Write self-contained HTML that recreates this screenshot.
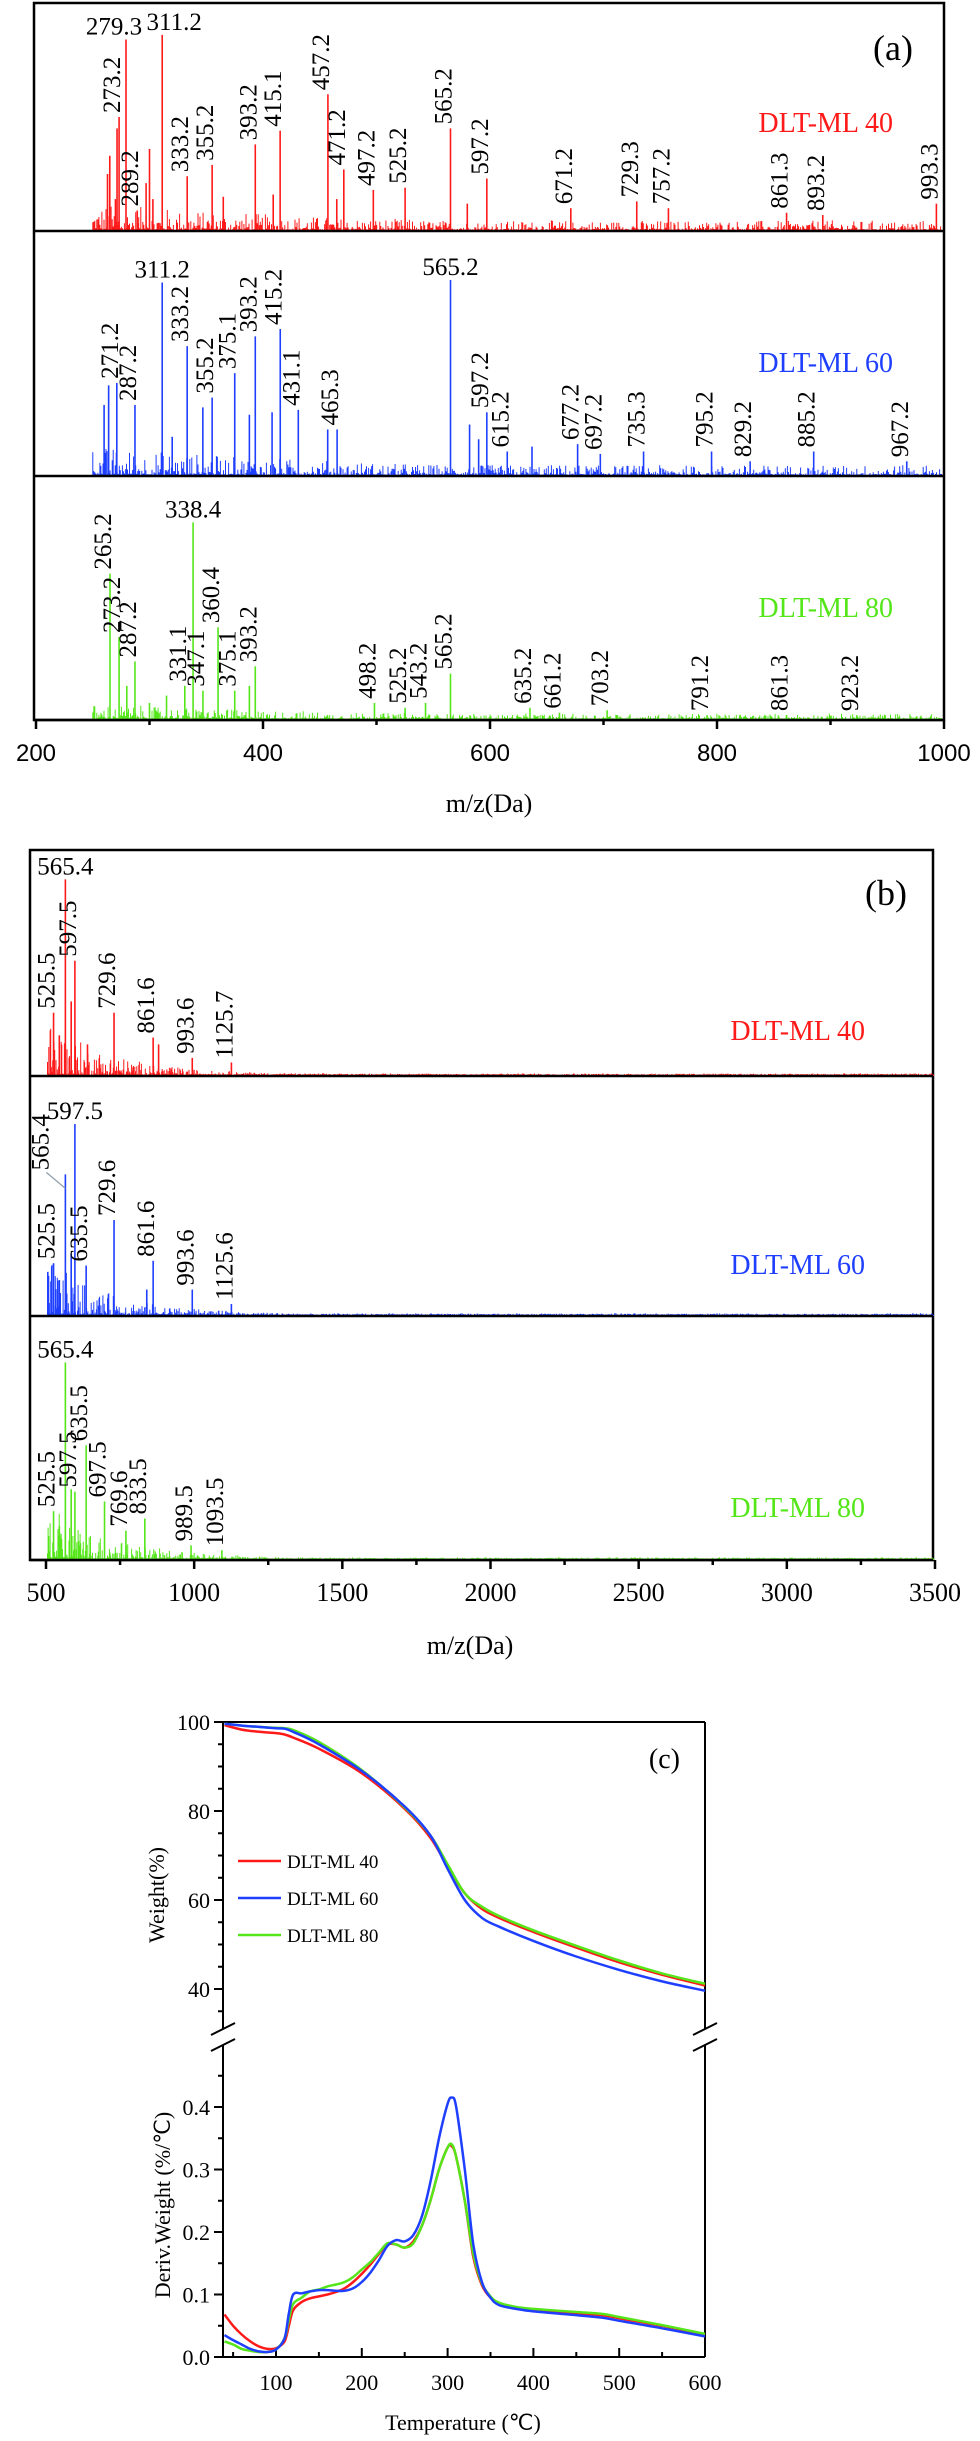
<!DOCTYPE html>
<html><head><meta charset="utf-8"><title>Figure</title>
<style>
html,body{margin:0;padding:0;background:#fff;}
svg{display:block;}
text{font-family:"Liberation Serif",serif;}
.sans{font-family:"Liberation Sans",sans-serif;}
</style></head>
<body>
<svg id="fig" width="980" height="2441" viewBox="0 0 980 2441" xmlns="http://www.w3.org/2000/svg"></svg>
<script>
// ===== Panel (a) data =====
const aSampleNames = ["DLT-ML 40","DLT-ML 60","DLT-ML 80"];
const aRedMz  = [263,265,270,271.4,273.2,279.3,289.2,297,300,303,311.2,333.2,355.2,365,393.2,409,415.1,457.2,465,471.2,497.2,525.2,565.2,580,597.2,671.2,729.3,757.2,861.3,893.2,993.3];
const aRedInt = [25,33,14,45,50,84,9,21,36,14,86,24,29,15,38,16,44,60,14,27,18,19,45,12,23,10,13,10,8,7,12];
const aRedLabels = ["273.2","279.3","289.2","311.2","333.2","355.2","393.2","415.1","457.2","471.2","497.2","525.2","565.2","597.2","671.2","729.3","757.2","861.3","893.2","993.3"];
const aBlueMz  = [260,264,271.2,287.2,311.2,320,333.2,347,355.2,375.1,388,393.2,408,415.2,431.1,457,465.3,565.2,582,590,597.2,615.2,637,677.2,697.2,735.3,795.2,829.2,885.2,967.2];
const aBlueInt = [29,37,38,29,79,16,53,28,32,42,25,57,26,60,27,19,19,80,21,15,26,10,12,13,9,10,10,6,10,6];
const aBlueLabels = ["271.2","287.2","311.2","333.2","355.2","375.1","393.2","415.2","431.1","465.3","565.2","597.2","615.2","677.2","697.2","735.3","795.2","829.2","885.2","967.2"];
const aGreenMz  = [265.2,273.2,280,287.2,300,315,331.1,338.4,347.1,360.4,375.1,388,393.2,498.2,525.2,543.2,565.2,635.2,661.2,703.2,791.2,861.3,923.2];
const aGreenInt = [60,34,14,24,7,10,14,81,12,38,12,14,22,7,5,7,19,5,3,4,2,2,2];
const aGreenLabels = ["265.2","273.2","287.2","331.1","338.4","347.1","360.4","375.1","393.2","498.2","525.2","543.2","565.2","635.2","661.2","703.2","791.2","861.3","923.2"];
const aRedHoriz = ["279.3","311.2"];
const aBlueHoriz = ["311.2","565.2"];
const aGreenHoriz = ["338.4"];
const aTicks = [200,400,600,800,1000];

// ===== Panel (b) data =====
const bRedMz  = [525.5,545,565.4,585,597.5,640,729.6,861.6,880,993.6,1125.7];
const bRedInt = [28,18,87,33,51,14,28,17,14,8,6];
const bRedLabels = ["565.4","525.5","597.5","729.6","861.6","993.6","1125.7"];
const bBlueMz  = [525.5,545,565.4,585,597.5,635.5,729.6,840,861.6,993.6,1125.6];
const bBlueInt = [22,15,59,26,80,21,40,11,23,11,5];
const bBlueLabels = ["565.4","597.5","525.5","635.5","729.6","861.6","993.6","1125.6"];
const bGreenMz  = [525.5,545,565.4,585,597.5,635.5,697.5,769.6,833.5,989.5,1093.5];
const bGreenInt = [20,14,81,29,28,47,24,12,17,6,4];
const bGreenLabels = ["565.4","525.5","597.5","635.5","697.5","769.6","833.5","989.5","1093.5"];
const bRedHoriz = ["565.4"];
const bBlueHoriz = ["597.5"];
const bGreenHoriz = ["565.4"];
const bTicks = [500,1000,1500,2000,2500,3000,3500];

// ===== Panel (c) data =====
const cWTemp = [40,60,80,100,110,120,150,200,250,280,300,320,340,360,400,450,500,550,600];
const cWRed   = [99.3,98.3,97.8,97.5,97.2,96.5,94,88.5,80.5,74,67.5,61.5,58,56,52.8,49.3,46,43.2,40.8];
const cWBlue  = [99.6,99.2,98.9,98.6,98.5,97.8,95,89,81,74.5,67,60,56,54,50.8,47.3,44.3,41.7,39.6];
const cWGreen = [99.6,99.2,98.9,98.7,98.6,98.2,95.5,89.2,80.8,74.5,68,61.5,58.5,56.4,53.2,49.7,46.4,43.5,41.2];
const cDTemp = [40,50,60,70,80,90,100,110,115,120,130,140,150,160,170,180,190,200,210,220,230,240,250,260,270,280,290,300,305,310,320,330,340,350,360,380,400,450,480,500,550,600];
const cDRed   = [.068,.05,.036,.025,.017,.013,.014,.025,.05,.075,.088,.094,.097,.10,.104,.11,.12,.133,.148,.165,.18,.18,.175,.185,.21,.25,.3,.335,.337,.32,.25,.16,.115,.095,.085,.078,.075,.07,.067,.062,.05,.036];
const cDBlue  = [.035,.027,.02,.013,.009,.008,.012,.03,.07,.1,.102,.105,.107,.107,.106,.106,.11,.12,.135,.155,.178,.187,.185,.195,.225,.28,.35,.405,.415,.4,.3,.18,.12,.095,.083,.077,.073,.067,.063,.058,.046,.033];
const cDGreen = [.025,.02,.013,.01,.008,.008,.012,.03,.06,.085,.095,.105,.108,.113,.116,.12,.128,.14,.152,.167,.182,.18,.175,.182,.21,.25,.3,.335,.34,.32,.25,.165,.118,.097,.087,.08,.077,.072,.069,.064,.051,.037];
const cXTicks = [100,200,300,400,500,600];
const cWTicks = [40,60,80,100];
const cDTicks = [0.0,0.1,0.2,0.3,0.4];

const NS = "http://www.w3.org/2000/svg";
const svg = document.getElementById("fig");
function el(tag, attrs, parent, txt){
  const e = document.createElementNS(NS, tag);
  for (const k in attrs) e.setAttribute(k, attrs[k]);
  if (txt !== undefined) e.textContent = txt;
  (parent || svg).appendChild(e);
  return e;
}
const RED="#ff1a1a", BLUE="#1f3fff", GREEN="#55e61a";

// decorative baseline noise (visual texture only, not data)
let seed = 12345;
function rnd(){ seed = (seed*1103515245+12345) % 2147483648; return seed/2147483648; }

function spectrum(opt){
  const g = el("g", {});
  
  
  const x = opt.x, y0 = opt.base, h = opt.h;
  let d = "";
  for (let v = opt.nStart; v <= opt.nEnd; v += opt.nStep){
    const fall = opt.decay ? Math.max(opt.floor, Math.exp(-(v-opt.nStart)/opt.decay)) : 1;
    const r = rnd();
    const amp = r*r*r*opt.nAmp*fall + rnd()*2*Math.max(fall,0.5) + 0.8;
    d += "M"+x(v).toFixed(1)+" "+y0+"V"+(y0-amp).toFixed(1);
  }
  const noise = el("path", {d:d, stroke:opt.color, "stroke-width":1, fill:"none"}, g);
  
  
  const off = opt.hOffset || {};
  const rOff = opt.rOffset || {};
  opt.mz.forEach((m,i)=>{
    const top = y0 - opt.ints[i]/100*h;
    const ln = el("line", {x1:x(m), x2:x(m), y1:y0, y2:top, stroke:opt.color, "stroke-width":1.6}, g);
    
    
    const lab = String(m);
    if (opt.labels.indexOf(lab) >= 0){
      let t;
      if (opt.horiz.indexOf(lab) >= 0){
        t = el("text", {x:x(m)+(off[lab]||0), y:top-5, "text-anchor":"middle", "font-size":opt.fs}, g, lab);
      } else {
        const dx = rOff[lab] || 0;
        const tx = x(m)+1+dx, ty = top-4;
        t = el("text", {x:tx, y:ty, "font-size":opt.fs, transform:"rotate(-90 "+tx+" "+ty+")"}, g, lab);
        if (dx) {
          const lead = el("line",{x1:tx-2,y1:ty+2,x2:x(m),y2:top+14,stroke:"#8899aa","stroke-width":1.2},g);
          
          
        }
      }
      
      
    }
  });
  return g;
}

// ================= Panel (a) =================
const aL=34, aR=944, aT=3, aB=[231,476,720];
const ax = v => 36 + (v-200)*(908/800);
const fa = el("rect",{x:aL,y:aT,width:aR-aL,height:aB[2]-aT,fill:"none",stroke:"#000","stroke-width":2.5});
 
const aTops=[aT,aB[0],aB[1]];
const aCols=[RED,BLUE,GREEN];
const aMzs=[aRedMz,aBlueMz,aGreenMz], aInts=[aRedInt,aBlueInt,aGreenInt], aLabs=[aRedLabels,aBlueLabels,aGreenLabels];
const aHz=[aRedHoriz,aBlueHoriz,aGreenHoriz];
const aHOff=[{"279.3":-12,"311.2":12},{},{}];
const aNoise=[26,28,14];
for (let k=0;k<3;k++){
  spectrum({name:'panel-a-spectrum-'+(k+1), x:ax, base:aB[k], h:aB[k]-aTops[k], color:aCols[k], mz:aMzs[k], ints:aInts[k], labels:aLabs[k], horiz:aHz[k], hOffset:aHOff[k], fs:25, nStart:250, nEnd:998, nStep:0.9, nAmp:aNoise[k], decay:300, floor:0.35});
  const sep = el("line",{x1:aL,x2:aR,y1:aB[k],y2:aB[k],stroke:"#000","stroke-width":2.5});
   
}
const aLabelY=[132,372,617];
aSampleNames.forEach((n,k)=>{
  const t=el("text",{x:893,y:aLabelY[k],"text-anchor":"end","font-size":28,fill:aCols[k]},svg,n);
   
});
const aTag=el("text",{x:913,y:60,"text-anchor":"end","font-size":36},svg,"(a)");
 
for (let v=200; v<=1000; v+=100){
  const major = aTicks.indexOf(v)>=0;
  const tk=el("line",{x1:ax(v),x2:ax(v),y1:aB[2],y2:aB[2]+(major?9:5),stroke:"#000","stroke-width":2.5});
   
}
aTicks.forEach(v=>{
  const t=el("text",{x:ax(v),y:761,"text-anchor":"middle","font-size":24,class:"sans"},svg,String(v));
   
});
const aXT=el("text",{x:489,y:812,"text-anchor":"middle","font-size":26},svg,"m/z(Da)");
 

// ================= Panel (b) =================
const bL=30, bR=933, bT=850, bB=[1076,1316,1560];
const bx = v => 46 + (v-500)*(889/3000);
const fb = el("rect",{x:bL,y:bT,width:bR-bL,height:bB[2]-bT,fill:"none",stroke:"#000","stroke-width":2.5});
 
const bTops=[bT,bB[0],bB[1]];
const bMzs=[bRedMz,bBlueMz,bGreenMz], bInts=[bRedInt,bBlueInt,bGreenInt], bLabs=[bRedLabels,bBlueLabels,bGreenLabels];
const bHz=[bRedHoriz,bBlueHoriz,bGreenHoriz];
const bROff=[{},{"565.4":-18},{}];
for (let k=0;k<3;k++){
  spectrum({name:'panel-b-spectrum-'+(k+1), x:bx, base:bB[k], h:bB[k]-bTops[k], color:aCols[k], mz:bMzs[k], ints:bInts[k], labels:bLabs[k], horiz:bHz[k], rOffset:bROff[k], fs:25, nStart:505, nEnd:3495, nStep:2.2, nAmp:55, decay:220, floor:0.02});
  const sep = el("line",{x1:bL,x2:bR,y1:bB[k],y2:bB[k],stroke:"#000","stroke-width":2.5});
   
}
const bLabelY=[1040,1274,1517];
aSampleNames.forEach((n,k)=>{
  const t=el("text",{x:865,y:bLabelY[k],"text-anchor":"end","font-size":28,fill:aCols[k]},svg,n);
   
});
const bTag=el("text",{x:907,y:905,"text-anchor":"end","font-size":36},svg,"(b)");
 
for (let v=500; v<=3500; v+=250){
  const major = bTicks.indexOf(v)>=0;
  const tk=el("line",{x1:bx(v),x2:bx(v),y1:bB[2],y2:bB[2]+(major?9:5),stroke:"#000","stroke-width":2.5});
   
}
bTicks.forEach(v=>{
  const t=el("text",{x:bx(v),y:1601,"text-anchor":"middle","font-size":26},svg,String(v));
   
});
const bXT=el("text",{x:470,y:1654,"text-anchor":"middle","font-size":26},svg,"m/z(Da)");
 

// ================= Panel (c) =================
const cL=223, cR=705, cT=1722, cBot=2357;
const cx = t => 276 + (t-100)*(429/500);
const cyW = w => 1722 + (100-w)*(267/60);
const cyD = d => 2357 - d*(250/0.4);
const breakY=2037;
function ln(x1,y1,x2,y2,name,w){ const l=el("line",{x1:x1,y1:y1,x2:x2,y2:y2,stroke:"#000","stroke-width":w||2});   return l;}
ln(cL,cT,cR,cT,'panel-c-top-border');
ln(cL,cBot,cR,cBot,'panel-c-x-axis');
ln(cL,cT,cL,breakY-8,'panel-c-left-axis-upper');
ln(cL,breakY+8,cL,cBot,'panel-c-left-axis-lower');
ln(cR,cT,cR,breakY-8,'panel-c-right-axis-upper');
ln(cR,breakY+8,cR,cBot,'panel-c-right-axis-lower');
[cL,cR].forEach(xx=>{
  ln(xx-12,breakY-2,xx+12,breakY-14,'axis-break-mark');
  ln(xx-12,breakY+14,xx+12,breakY+2,'axis-break-mark');
});
for (let w=35; w<=100; w+=5){
  const major = cWTicks.indexOf(w)>=0;
  ln(cL-(major?9:5),cyW(w),cL,cyW(w),'panel-c-weight-tick');
}
cWTicks.forEach(w=>{
  const t=el("text",{x:210,y:cyW(w)+8,"text-anchor":"end","font-size":22},svg,String(w));
   
});
for (let d=0; d<=0.475; d+=0.05){
  const major = Math.abs(d*10-Math.round(d*10))<1e-6;
  ln(cL-(major?9:5),cyD(d),cL,cyD(d),'panel-c-deriv-tick');
}
cDTicks.forEach(d=>{
  const t=el("text",{x:210,y:cyD(d)+8,"text-anchor":"end","font-size":22},svg,d.toFixed(1));
   
});
for (let t=50; t<=600; t+=50){
  const major = cXTicks.indexOf(t)>=0;
  ln(cx(t),cBot,cx(t),cBot-(major?9:5),'panel-c-x-tick');
}
cXTicks.forEach(t=>{
  const e=el("text",{x:cx(t),y:2390,"text-anchor":"middle","font-size":22},svg,String(t));
   
});
const cXT=el("text",{x:463,y:2430,"text-anchor":"middle","font-size":22},svg,"Temperature (\u2103)");
 
const wYT=el("text",{x:0,y:0,"text-anchor":"middle","font-size":22,transform:"translate(164,1895) rotate(-90)"},svg,"Weight(%)");
 
const dYT=el("text",{x:0,y:0,"text-anchor":"middle","font-size":22,transform:"translate(170,2205) rotate(-90)"},svg,"Deriv.Weight (%/\u2103)");
 
const cTag=el("text",{x:680,y:1768,"text-anchor":"end","font-size":28},svg,"(c)");
 

function curve(xs, ys, fx, fy, color, name){
  const pts = xs.map((t,i)=>[fx(t),fy(ys[i])]);
  let d="M"+pts[0][0].toFixed(1)+" "+pts[0][1].toFixed(1);
  for (let i=0;i<pts.length-1;i++){
    const p0=pts[Math.max(0,i-1)],p1=pts[i],p2=pts[i+1],p3=pts[Math.min(pts.length-1,i+2)];
    const c1x=p1[0]+(p2[0]-p0[0])/6,c1y=p1[1]+(p2[1]-p0[1])/6;
    const c2x=p2[0]-(p3[0]-p1[0])/6,c2y=p2[1]-(p3[1]-p1[1])/6;
    d+="C"+c1x.toFixed(1)+" "+c1y.toFixed(1)+" "+c2x.toFixed(1)+" "+c2y.toFixed(1)+" "+p2[0].toFixed(1)+" "+p2[1].toFixed(1);
  }
  const p=el("path",{d:d,fill:"none",stroke:color,"stroke-width":2.5});
   
}
curve(cWTemp,cWRed,cx,cyW,RED,'weight-curve-40');
curve(cWTemp,cWGreen,cx,cyW,GREEN,'weight-curve-80');
curve(cWTemp,cWBlue,cx,cyW,BLUE,'weight-curve-60');
curve(cDTemp,cDRed,cx,cyD,RED,'deriv-curve-40');
curve(cDTemp,cDGreen,cx,cyD,GREEN,'deriv-curve-80');
curve(cDTemp,cDBlue,cx,cyD,BLUE,'deriv-curve-60');
const legY=[1861,1898,1935];
aSampleNames.forEach((n,k)=>{
  const l=el("line",{x1:238,x2:281,y1:legY[k],y2:legY[k],stroke:aCols[k],"stroke-width":2.5});
   
  const t=el("text",{x:287,y:legY[k]+7,"font-size":19},svg,n);
   
});
</script>
</body></html>
